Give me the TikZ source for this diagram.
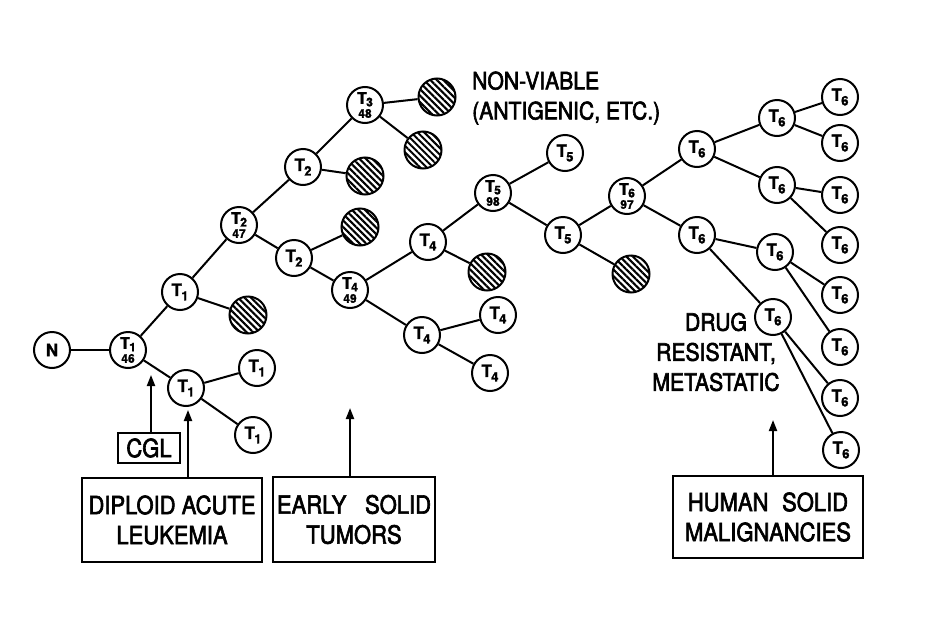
\documentclass[tikz,border=0pt]{standalone}
\usepackage{fontspec}
\setmainfont{TeX Gyre Heros}
\newfontfamily\lblfont[FakeStretch=0.88,FakeBold=2.5]{TeX Gyre Heros}
\newfontfamily\cellfont[FakeBold=1.5]{TeX Gyre Heros Bold}
\usetikzlibrary{patterns.meta,arrows.meta}
\newcommand\tsub[1]{T\kern-0.04em\raisebox{-0.5ex}{\fontsize{13}{13}\selectfont #1}}
\newcommand\tnum[2]{{\fontsize{16}{16}\selectfont T\kern-0.04em\raisebox{-0.3ex}{\fontsize{12}{12}\selectfont #1}}\\[-3pt]{\fontsize{12}{12}\selectfont #2}}
\tikzset{
  cell/.style={circle, draw, line width=2pt, minimum size=36pt, inner sep=0pt,
    fill=white, align=center, font=\cellfont\fontsize{17}{17}\selectfont},
  dead/.style={circle, draw, line width=2pt, minimum size=37pt, inner sep=0pt,
    pattern={Lines[angle=-45,distance=4.6pt,line width=2.1pt]}},
  link/.style={line width=2pt},
  labelbox/.style={draw, line width=2pt, inner sep=2pt, align=center,
    font=\lblfont\fontsize{25}{30}\selectfont},
  note/.style={inner sep=0pt, font=\lblfont\fontsize{24}{30}\selectfont},
  uparrow/.style={line width=2pt, -{Triangle[length=11pt,width=8pt]}}
}
\begin{document}
\begin{tikzpicture}[x=1pt,y=-1pt]
\fill[white] (0,0) rectangle (934,632);
\useasboundingbox (0,0) rectangle (934,632);

% cells
\node[cell] (n)  at (52,350)  {N};
\node[cell] (a1) at (128,350) {\tnum{1}{46}};
\node[cell] (a2) at (180,292) {\tsub{1}};
\node[dead] (h1) at (248,315) {};
\node[cell] (a3) at (186,388) {\tsub{1}};
\node[cell] (a4) at (257,368) {\tsub{1}};
\node[cell] (a5) at (253,435) {\tsub{1}};
\node[cell] (b1) at (239,225) {\tnum{2}{47}};
\node[cell] (b2) at (303,167) {\tsub{2}};
\node[dead] (h2) at (365,176) {};
\node[cell] (c1) at (365,105) {\tnum{3}{48}};
\node[dead] (h3) at (437,97)  {};
\node[dead] (h4) at (423,150) {};
\node[cell] (b3) at (294,258) {\tsub{2}};
\node[dead] (h5) at (360,227) {};
\node[cell] (d1) at (350,290) {\tnum{4}{49}};
\node[cell] (d2) at (428,242) {\tsub{4}};
\node[dead] (h6) at (487,272) {};
\node[cell] (d3) at (422,335) {\tsub{4}};
\node[cell] (d4) at (498,315) {\tsub{4}};
\node[cell] (d5) at (490,373) {\tsub{4}};
\node[cell] (e1) at (493,193) {\tnum{5}{98}};
\node[cell] (e2) at (565,153) {\tsub{5}};
\node[cell] (e3) at (563,235) {\tsub{5}};
\node[cell] (f1) at (627,196) {\tnum{6}{97}};
\node[dead] (h7) at (631,274) {};
\node[cell] (f2) at (697,149) {\tsub{6}};
\node[cell] (f3) at (777,118) {\tsub{6}};
\node[cell] (l1) at (840,97)  {\tsub{6}};
\node[cell] (l2) at (840,143) {\tsub{6}};
\node[cell] (f4) at (777,185) {\tsub{6}};
\node[cell] (l3) at (840,195) {\tsub{6}};
\node[cell] (l4) at (840,245) {\tsub{6}};
\node[cell] (f5) at (697,235) {\tsub{6}};
\node[cell] (f6) at (775,252) {\tsub{6}};
\node[cell] (l5) at (840,295) {\tsub{6}};
\node[cell] (l6) at (840,347) {\tsub{6}};
\node[cell] (f7) at (773,317) {\tsub{6}};
\node[cell] (l7) at (840,398) {\tsub{6}};
\node[cell] (l8) at (841,450) {\tsub{6}};

% links
\foreach \u/\v in {n/a1,a1/a2,a2/h1,a1/a3,a3/a4,a3/a5,a2/b1,b1/b2,b2/h2,b2/c1,
  c1/h3,c1/h4,b1/b3,b3/h5,b3/d1,d1/d2,d2/h6,d1/d3,d3/d4,d3/d5,d2/e1,e1/e2,e1/e3,
  e3/f1,e3/h7,f1/f2,f2/f3,f3/l1,f3/l2,f2/f4,f4/l3,f4/l4,f1/f5,f5/f6,f6/l5,f6/l6,
  f5/f7,f7/l7,f7/l8}
  \draw[link] (\u) -- (\v);

% texts
\node[note, anchor=west, align=left] (nv) at (472,98) {NON-VIABLE\\(ANTIGENIC, ETC.)};
\node[note, align=center] (drug) at (716,352) {DRUG\\RESISTANT,\\METASTATIC};

% boxes
\node[labelbox, minimum width=62pt, minimum height=30pt] (cgl) at (149,448) {CGL};
\node[labelbox, minimum width=180pt, minimum height=84pt] (dal) at (172,520) {DIPLOID ACUTE\\LEUKEMIA};
\node[labelbox, minimum width=162pt, minimum height=85pt] (esb) at (354,519.5) {EARLY\hspace{0.5em} SOLID\\TUMORS};
\node[labelbox, minimum width=190pt, minimum height=82pt] (hsm) at (768,517) {HUMAN\hspace{0.3em} SOLID\\MALIGNANCIES};

% arrows
\coordinate (t1) at (151,375);
\coordinate (t2) at (188,410);
\coordinate (t3) at (350,408);
\coordinate (t4) at (773,420);
\draw[uparrow] (cgl.north -| t1) -- (t1);
\draw[uparrow] (dal.north -| t2) -- (t2);
\draw[uparrow] (esb.north -| t3) -- (t3);
\draw[uparrow] (hsm.north -| t4) -- (t4);
\end{tikzpicture}
\end{document}
